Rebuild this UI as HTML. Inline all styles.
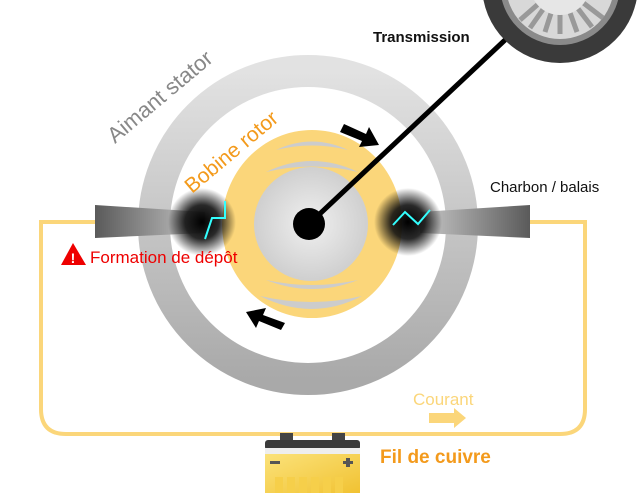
<!DOCTYPE html>
<html><head><meta charset="utf-8"><style>
html,body{margin:0;padding:0;background:#fff;width:640px;height:493px;overflow:hidden}
svg{display:block}
text{font-family:"Liberation Sans","DejaVu Sans",sans-serif}
</style></head><body>
<svg width="640" height="493" viewBox="0 0 640 493" xmlns="http://www.w3.org/2000/svg">
<defs>
<linearGradient id="ring" x1="0" y1="0" x2="0" y2="1"><stop offset="0" stop-color="#e2e2e2"/><stop offset="1" stop-color="#a9a9a9"/></linearGradient>
<radialGradient id="core" cx="0.5" cy="0.5" r="0.5"><stop offset="0" stop-color="#f0f0f0"/><stop offset="1" stop-color="#cfcfcf"/></radialGradient>
<linearGradient id="brL" x1="0" x2="1"><stop offset="0" stop-color="#5a5a5a"/><stop offset="1" stop-color="#c8c8c8"/></linearGradient>
<linearGradient id="brR" x1="1" x2="0"><stop offset="0" stop-color="#5a5a5a"/><stop offset="1" stop-color="#c8c8c8"/></linearGradient>
<radialGradient id="dust"><stop offset="0" stop-color="#000"/><stop offset="0.5" stop-color="#111" stop-opacity="0.9"/><stop offset="1" stop-color="#000" stop-opacity="0"/></radialGradient>
<linearGradient id="bat" x1="0" y1="0" x2="1" y2="1"><stop offset="0" stop-color="#fbe27a"/><stop offset="1" stop-color="#f1c232"/></linearGradient>
</defs>
<path d="M100 222 H41 V409 Q41 434 66 434 H560 Q585 434 585 409 V222 H525" fill="none" stroke="#fbd67a" stroke-width="4"/>
<circle cx="308" cy="225" r="154" fill="none" stroke="url(#ring)" stroke-width="32"/>
<ellipse cx="312" cy="224" rx="90" ry="94" fill="#fbd67a"/>
<path d="M276 150 Q312 133 348 150 Q312 141 276 150Z" fill="#ccc"/>
<path d="M266 172 Q312 150 358 172 Q312 161 266 172Z" fill="#ccc"/>
<path d="M266 280 Q312 298 358 280 Q312 290 266 280Z" fill="#ccc"/>
<path d="M260 296 Q312 322 362 296 Q312 308 260 296Z" fill="#ccc"/>
<circle cx="311" cy="224" r="57" fill="url(#core)"/>
<polygon points="95,205 205,212 205,233 95,238" fill="url(#brL)"/>
<polygon points="530,205 420,212 420,233 530,238" fill="url(#brR)"/>
<circle cx="202" cy="222" r="34" fill="url(#dust)"/>
<circle cx="408" cy="222" r="34" fill="url(#dust)"/>
<polyline points="225,201 225,218 212,218 205,239" fill="none" stroke="#3ff" stroke-width="2"/>
<polyline points="393,225 405,212 418,224 430,210" fill="none" stroke="#3ff" stroke-width="2"/>
<polygon points="344,124 366,134 369,127 379,145 359,147 362,141 340,132" fill="#000"/>
<polygon points="281,330 259,321 256,328 246,312 266,308 263,315 285,323" fill="#000"/>
<circle cx="560" cy="-15" r="78" fill="#3a3a3a"/>
<circle cx="560" cy="-15" r="60" fill="#8a8a8a"/>
<circle cx="560" cy="-15" r="54" fill="#d8d8d8"/>
<g stroke="#999" stroke-width="5">
<line x1="560" y1="-15" x2="520" y2="20"/><line x1="560" y1="-15" x2="530" y2="28"/><line x1="560" y1="-15" x2="545" y2="32"/><line x1="560" y1="-15" x2="560" y2="34"/><line x1="560" y1="-15" x2="577" y2="32"/><line x1="560" y1="-15" x2="592" y2="27"/><line x1="560" y1="-15" x2="603" y2="18"/>
</g>
<circle cx="560" cy="-15" r="30" fill="#e6e6e6"/>
<line x1="309" y1="224" x2="505" y2="40" stroke="#000" stroke-width="5"/>
<circle cx="309" cy="224" r="16" fill="#000"/>
<rect x="280" y="433" width="13" height="8" fill="#444"/><rect x="332" y="433" width="13" height="8" fill="#444"/>
<rect x="265" y="440" width="95" height="10" rx="3" fill="#3a3a3a"/>
<rect x="265" y="448" width="95" height="6" fill="#eee"/>
<rect x="265" y="454" width="95" height="39" fill="url(#bat)"/>
<rect x="270" y="461" width="10" height="3" fill="#555"/>
<rect x="343" y="461" width="10" height="3" fill="#555"/><rect x="346" y="458" width="4" height="9" fill="#555"/>
<g fill="#f6cf4a"><rect x="275" y="477" width="8" height="16"/><rect x="287" y="477" width="8" height="16"/><rect x="299" y="477" width="8" height="16"/><rect x="311" y="477" width="8" height="16"/><rect x="323" y="477" width="8" height="16"/><rect x="335" y="477" width="8" height="16"/></g>
<text x="373" y="42" font-size="15" font-weight="bold" fill="#111">Transmission</text>
<text x="0" y="0" font-size="22" fill="#888" transform="translate(115,144) rotate(-40)">Aimant stator</text>
<text x="0" y="0" font-size="21" fill="#f39a1c" transform="translate(192,194) rotate(-40)">Bobine rotor</text>
<text x="490" y="192" font-size="15" fill="#111">Charbon / balais</text>
<polygon points="73,243 61,265 86,265" fill="#e00"/>
<text x="73" y="263" font-size="14" font-weight="bold" fill="#fff" text-anchor="middle">!</text>
<text x="90" y="263" font-size="17" fill="#e00">Formation de dépôt</text>
<text x="413" y="405" font-size="17" fill="#fbd67a">Courant</text>
<polygon points="429,413 454,413 454,408 466,418 454,428 454,423 429,423" fill="#fbd67a"/>
<text x="380" y="463" font-size="19" font-weight="bold" fill="#f39a1c">Fil de cuivre</text>
</svg>
</body></html>
